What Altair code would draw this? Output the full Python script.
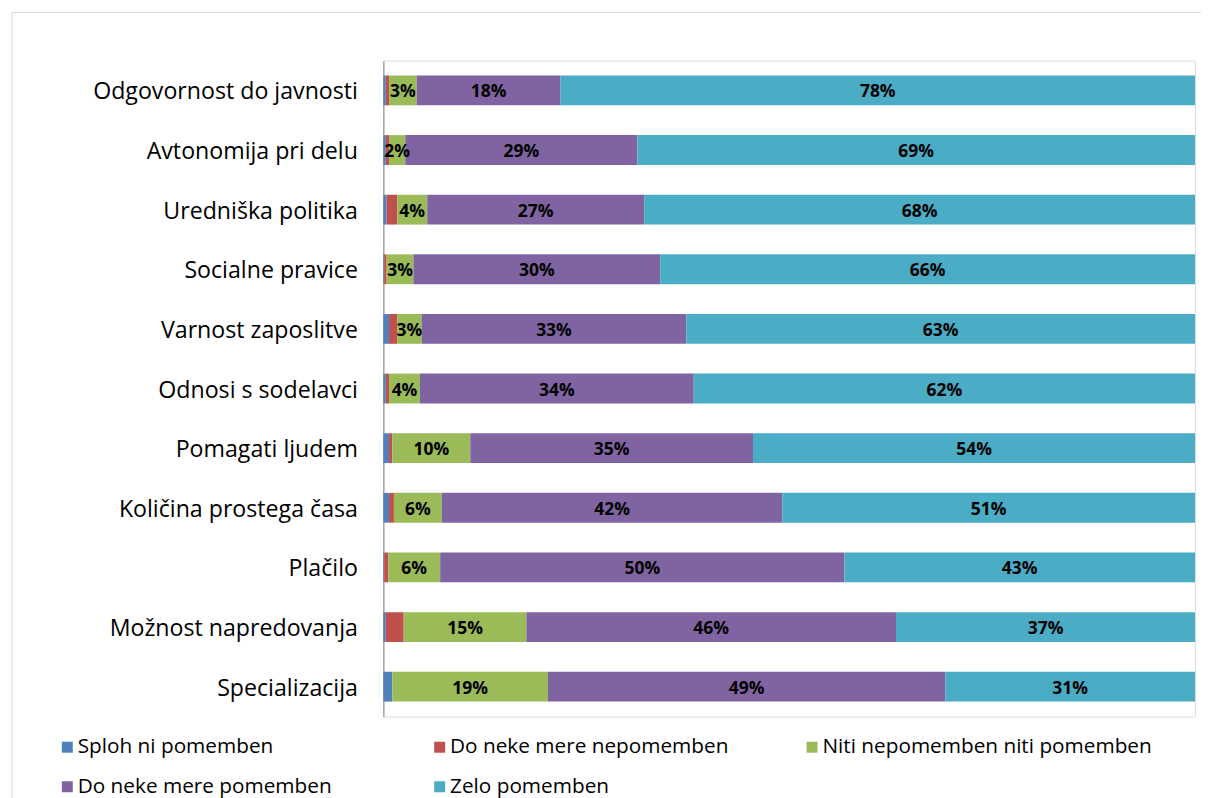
import altair as alt
import pandas as pd

categories = ["Odgovornost do javnosti", "Avtonomija pri delu", "Uredniška politika",
              "Socialne pravice", "Varnost zaposlitve", "Odnosi s sodelavci",
              "Pomagati ljudem", "Količina prostega časa", "Plačilo",
              "Možnost napredovanja", "Specializacija"]
series = ["Sploh ni pomemben", "Do neke mere nepomemben", "Niti nepomemben niti pomemben",
          "Do neke mere pomemben", "Zelo pomemben"]
colors = ["#4F81BD", "#C0504D", "#9BBB59", "#8064A2", "#4BACC6"]

sploh = [0.3, 0.3, 0.4, 0.1, 0.7, 0.3, 0.7, 0.7, 0.1, 0.3, 1.1]
neke_nepom = [0.4, 0.4, 1.3, 0.3, 1.0, 0.4, 0.4, 0.6, 0.5, 2.2, 0.0]
niti = [3.4, 2.0, 3.7, 3.3, 3.0, 3.8, 9.6, 5.9, 6.4, 15.1, 19.2]
neke_pom = [17.7, 28.6, 26.7, 30.4, 32.6, 33.7, 34.8, 41.9, 49.8, 45.5, 49.0]
zelo = [78.1, 68.7, 67.8, 65.9, 62.6, 61.7, 54.4, 50.8, 43.2, 36.8, 30.8]
labelled = ["Niti nepomemben niti pomemben", "Do neke mere pomemben", "Zelo pomemben"]

rows = []
for si, (s, vals) in enumerate(zip(series, [sploh, neke_nepom, niti, neke_pom, zelo])):
    for c, v in zip(categories, vals):
        rows.append({"cat": c, "series": s, "value": v, "order": si})
df = pd.DataFrame(rows)

FONT = "Open Sans"

base = alt.Chart(df).transform_joinaggregate(
    total="sum(value)", groupby=["cat"]
).transform_calculate(
    pct="datum.value / datum.total"
).transform_stack(
    stack="pct", groupby=["cat"], as_=["x0", "x1"],
    sort=[alt.SortField("order", order="ascending")]
).transform_calculate(
    mid="(datum.x0 + datum.x1) / 2",
    label="format(datum.value, '.0f') + '%'"
)

yenc = alt.Y("cat:N", sort=categories, title=None,
             scale=alt.Scale(paddingInner=0.5, paddingOuter=0.25),
             axis=alt.Axis(ticks=False, labelFontSize=23.2, labelFont=FONT, labelColor="#000000",
                           labelPadding=26, labelOffset=2, domainColor="#868686", domainWidth=1,
                           grid=False, labelLimit=400))

bars = base.mark_bar().encode(
    x=alt.X("x0:Q", scale=alt.Scale(domain=[0, 1], nice=False), axis=None),
    x2="x1:Q",
    y=yenc,
    color=alt.Color("series:N", sort=series,
                    scale=alt.Scale(domain=series, range=colors),
                    legend=alt.Legend(title=None, orient="none", legendX=-327, legendY=677,
                                      direction="horizontal",
                                      columns=3, symbolType="square", symbolSize=121,
                                      symbolStrokeWidth=0, labelFontSize=20.8, labelFont=FONT,
                                      labelColor="#000000", labelOffset=0, rowPadding=18,
                                      columnPadding=22, gridAlign="all", labelLimit=500)),
)

texts = base.transform_filter(
    alt.FieldOneOfPredicate(field="series", oneOf=labelled)
).mark_text(fontWeight="bold", fontSize=17.5, font=FONT, color="#000000", dy=2).encode(
    x=alt.X("mid:Q", scale=alt.Scale(domain=[0, 1], nice=False), axis=None),
    y=alt.Y("cat:N", sort=categories),
    text="label:N",
)

frame_data = alt.Data(values=[{"a": 1}])
frame_left = alt.Chart(frame_data).mark_rule(color="#d9d9d9", strokeWidth=1).encode(
    x=alt.value(-372), y=alt.value(-48), y2=alt.value(740))
frame_top = alt.Chart(frame_data).mark_rule(color="#d9d9d9", strokeWidth=1).encode(
    x=alt.value(-372), x2=alt.value(850), y=alt.value(-48))

chart = alt.layer(bars, texts, frame_left, frame_top).properties(
    width=813, height=657,
    autosize=alt.AutoSizeParams(type="none"),
    padding={"left": 376, "top": 52, "right": 6, "bottom": 81},
).configure_view(stroke=None).configure(font=FONT)

chart.save("out.html", embed_options={"renderer": "svg", "actions": False})
